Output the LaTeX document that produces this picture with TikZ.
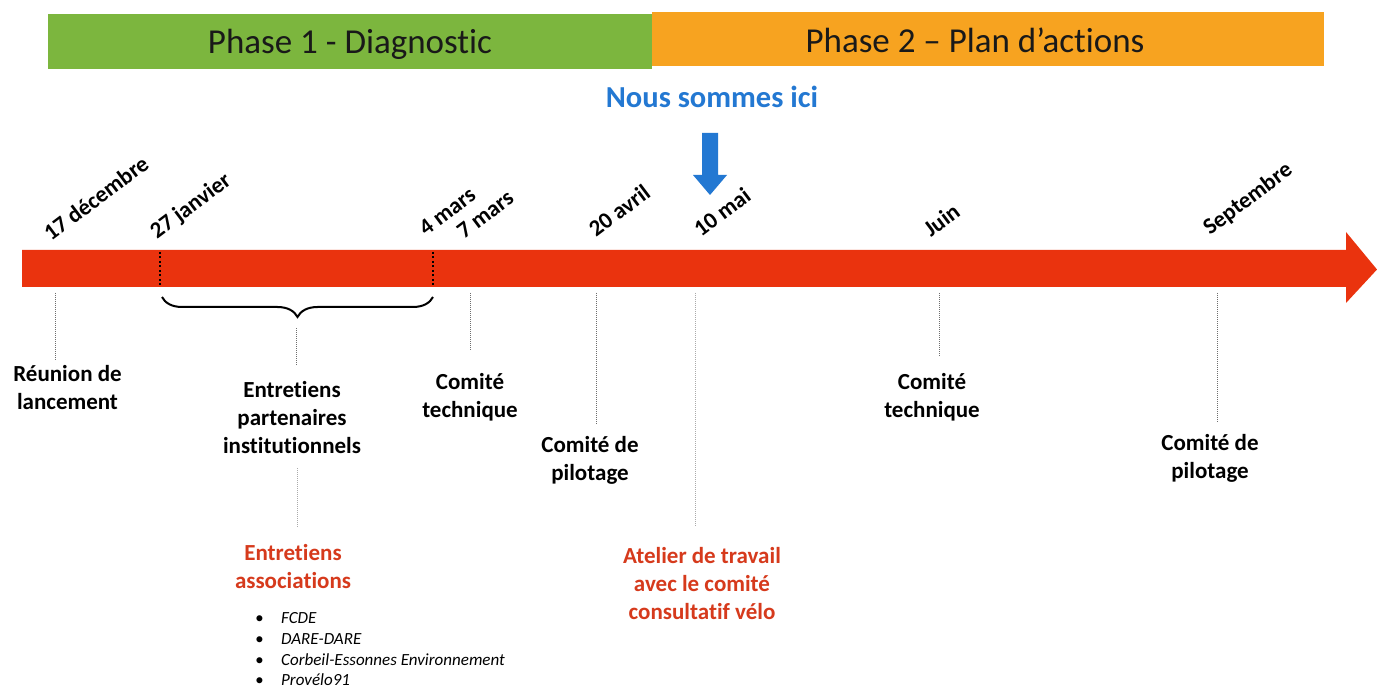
\documentclass[tikz,border=0pt]{standalone}
\usepackage{fontspec}
\setmainfont{Carlito}[Ligatures=NoCommon]
\usetikzlibrary{decorations.pathreplacing}
\definecolor{barred}{RGB}{234,51,14}
\definecolor{phgreen}{RGB}{124,182,62}
\definecolor{phorange}{RGB}{247,163,32}
\definecolor{hereblue}{RGB}{35,120,210}
\definecolor{txtred}{RGB}{214,58,28}
\definecolor{lgray}{RGB}{110,110,110}
\definecolor{llgray}{RGB}{170,170,170}
\begin{document}
\begin{tikzpicture}[x=1pt,y=-1pt,
  phasetxt/.style={font=\fontsize{35}{40}\selectfont, text=black!90, inner sep=0, anchor=base},
  datelbl/.style={font=\bfseries\fontsize{23}{27}\selectfont, rotate=37, anchor=base west, inner sep=0},
  evt/.style={font=\bfseries\fontsize{23}{28}\selectfont, align=center, inner sep=0, anchor=base},
  redtxt/.style={evt, text=txtred},
  listtxt/.style={font=\itshape\fontsize{17}{20}\selectfont, inner sep=0, anchor=base west},
  vline/.style={draw=lgray, line width=1pt, dash pattern=on 1pt off 1pt},
  vlinelight/.style={draw=llgray, line width=1pt, dash pattern=on 1pt off 1pt},
  barmark/.style={draw=black, line width=2.2pt, dash pattern=on 2pt off 2.5pt}
]
\useasboundingbox (0,0) rectangle (1377,687);
\fill[white] (0,0) rectangle (1377,687);

% phase bars
\fill[phgreen] (48,14) rectangle (652,69);
\fill[phorange] (652,12) rectangle (1324,66);
\node[phasetxt] (ph1) at (350,54) {Phase 1 - Diagnostic};
\node[phasetxt] (ph2) at (975,53) {Phase 2 – Plan d’actions};

% here marker
\node[font=\bfseries\fontsize{30.5}{35}\selectfont, text=hereblue, inner sep=0, anchor=base] (here) at (712,108) {Nous sommes ici};
\fill[hereblue] (702,133) -- (718,133) -- (718,175) -- (727,175) -- (710,195) -- (693,175) -- (702,175) -- cycle;

% timeline arrow
\fill[barred] (22,250) -- (1346,250) -- (1346,232) -- (1377,269.5) -- (1346,303) -- (1346,287) -- (22,287) -- cycle;
\draw[barmark] (160,252) -- (160,286);
\draw[barmark] (433,252) -- (433,286);

% dates
\node[datelbl] (d1) at (51,242) {17 décembre};
\node[datelbl] (d2) at (157,240) {27 janvier};
\node[datelbl] (d3) at (426,237) {4 mars};
\node[datelbl] (d4) at (464,240) {7 mars};
\node[datelbl] (d5) at (596,238) {20 avril};
\node[datelbl] (d6) at (701,238) {10 mai};
\node[datelbl] (d7) at (931,238) {Juin};
\node[datelbl] (d8) at (1210,236) {Septembre};

% brace
\draw[line width=2pt, decorate, decoration={brace, amplitude=20pt}] (433,297) -- (162,297);

% connector end points
\coordinate (a1) at (55,293);   \coordinate (b1) at (55,360);
\coordinate (a2) at (296,328);  \coordinate (b2) at (296,365);
\coordinate (a3) at (470,293);  \coordinate (b3) at (470,350);
\coordinate (a4) at (596,293);  \coordinate (b4) at (596,425);
\coordinate (a5) at (695,293);  \coordinate (b5) at (695,526);
\coordinate (a6) at (939,293);  \coordinate (b6) at (939,357);
\coordinate (a7) at (1217,293); \coordinate (b7) at (1217,422);
\coordinate (a8) at (297,468);  \coordinate (b8) at (297,528);
\draw[vline] (a1) -- (b1);
\draw[vline] (a2) -- (b2);
\draw[vline] (a3) -- (b3);
\draw[vline] (a4) -- (b4);
\draw[vlinelight] (a5) -- (b5);
\draw[vline] (a6) -- (b6);
\draw[vline] (a7) -- (b7);
\draw[vlinelight] (a8) -- (b8);

% events (anchor base = baseline of last line)
\node[evt] (e1) at (67.5,409) {Réunion de\\lancement};
\node[evt] (e2) at (292,453) {Entretiens\\partenaires\\institutionnels};
\node[evt] (e3) at (470,417) {Comité\\technique};
\node[evt] (e4) at (590,480) {Comité de\\pilotage};
\node[redtxt] (e5) at (702,619) {Atelier de travail\\avec le comité\\consultatif vélo};
\node[evt] (e6) at (932,417) {Comité\\technique};
\node[evt] (e7) at (1210,478) {Comité de\\pilotage};
\node[redtxt] (e8) at (293,588) {Entretiens\\associations};

% list
\node[listtxt] (l1b) at (255,623) {\textbullet};
\node[listtxt] (l1) at (281,623) {FCDE};
\node[listtxt] (l2b) at (255,644) {\textbullet};
\node[listtxt] (l2) at (281,644) {DARE-DARE};
\node[listtxt] (l3b) at (255,665) {\textbullet};
\node[listtxt] (l3) at (281,665) {Corbeil-Essonnes Environnement};
\node[listtxt] (l4b) at (255,685) {\textbullet};
\node[listtxt] (l4) at (281,685) {Provélo91};
\end{tikzpicture}
\end{document}
